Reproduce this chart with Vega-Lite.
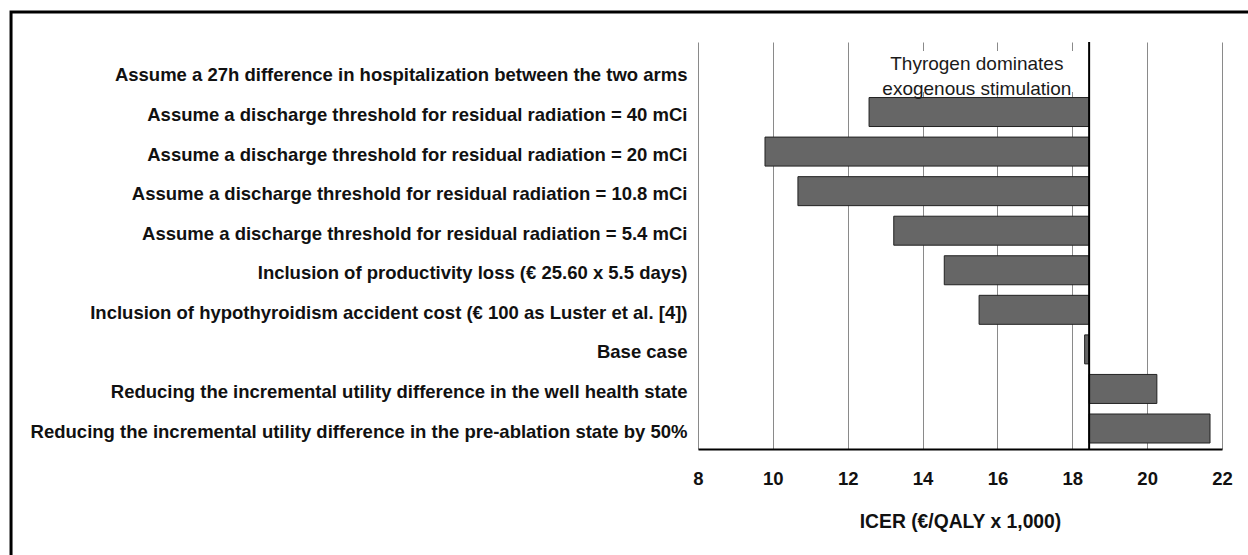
{
  "$schema": "https://vega.github.io/schema/vega-lite/v6.json",
  "autosize": {"type": "none"},
  "padding": {"left": 698, "top": 42, "right": 26, "bottom": 106},
  "width": 524,
  "height": 407,
  "background": "white",
  "config": {"view": {"stroke": null}, "font": "Liberation Sans"},
  "resolve": {"scale": {"y": "independent"}},
  "layer": [
    {
      "data": {"values": [{"box": "note"}]},
      "mark": {"type": "rect", "fill": "white", "strokeWidth": 0},
      "encoding": {
        "x": {"datum": 12.8, "type": "quantitative", "scale": {"domain": [8, 22], "nice": false, "zero": false}},
        "x2": {"datum": 18.38},
        "y": {"datum": 0.978, "type": "quantitative", "scale": {"domain": [0, 1], "nice": false, "zero": false}, "axis": null},
        "y2": {"datum": 0.877}
      }
    },
    {
      "data": {"values": [
        {"label": "Assume a 27h difference in hospitalization between the two arms", "lo": null, "hi": null},
        {"label": "Assume a discharge threshold for residual radiation = 40 mCi", "lo": 12.57, "hi": 18.45},
        {"label": "Assume a discharge threshold for residual radiation = 20 mCi", "lo": 9.79, "hi": 18.45},
        {"label": "Assume a discharge threshold for residual radiation = 10.8 mCi", "lo": 10.67, "hi": 18.45},
        {"label": "Assume a discharge threshold for residual radiation = 5.4 mCi", "lo": 13.23, "hi": 18.45},
        {"label": "Inclusion of productivity loss (€ 25.60 x 5.5 days)", "lo": 14.58, "hi": 18.45},
        {"label": "Inclusion of hypothyroidism accident cost (€ 100 as Luster et al. [4])", "lo": 15.51, "hi": 18.45},
        {"label": "Base case", "lo": 18.33, "hi": 18.45},
        {"label": "Reducing the incremental utility difference in the well health state", "lo": 18.45, "hi": 20.26},
        {"label": "Reducing the incremental utility difference in the pre-ablation state by 50%", "lo": 18.45, "hi": 21.68}
      ]},
      "mark": {"type": "bar", "fill": "#666666", "stroke": "#222222", "strokeWidth": 1},
      "encoding": {
        "y": {
          "field": "label", "type": "nominal", "sort": null,
          "scale": {
            "domain": [
              "Assume a 27h difference in hospitalization between the two arms",
              "Assume a discharge threshold for residual radiation = 40 mCi",
              "Assume a discharge threshold for residual radiation = 20 mCi",
              "Assume a discharge threshold for residual radiation = 10.8 mCi",
              "Assume a discharge threshold for residual radiation = 5.4 mCi",
              "Inclusion of productivity loss (€ 25.60 x 5.5 days)",
              "Inclusion of hypothyroidism accident cost (€ 100 as Luster et al. [4])",
              "Base case",
              "Reducing the incremental utility difference in the well health state",
              "Reducing the incremental utility difference in the pre-ablation state by 50%"
            ],
            "paddingInner": 0.267, "paddingOuter": 0.2775, "align": 0.727
          },
          "axis": {
            "title": null, "domain": false, "ticks": false, "grid": false,
            "labelFontSize": 18.5, "labelFontWeight": "bold", "labelColor": "#111111",
            "labelPadding": 11, "labelLimit": 900, "labelOffset": 3
          }
        },
        "x": {
          "field": "lo", "type": "quantitative",
          "scale": {"domain": [8, 22], "nice": false, "zero": false},
          "axis": {
            "values": [8, 10, 12, 14, 16, 18, 20, 22],
            "grid": true, "gridColor": "#8a8a8a", "gridWidth": 1,
            "domainColor": "#000000", "domainWidth": 2, "ticks": false,
            "labelFontSize": 18.5, "labelFontWeight": "bold", "labelColor": "#111111",
            "labelPadding": 20, "labelFlush": false,
            "title": "ICER (€/QALY x 1,000)", "titleFontSize": 19.3, "titleFontWeight": "bold",
            "titleColor": "#111111", "titlePadding": 25
          }
        },
        "x2": {"field": "hi"}
      }
    },
    {
      "data": {"values": [{"line": "baseline"}]},
      "mark": {"type": "rule", "color": "#000000", "strokeWidth": 2},
      "encoding": {
        "x": {"datum": 18.45, "type": "quantitative", "scale": {"domain": [8, 22], "nice": false, "zero": false}}
      }
    },
    {
      "data": {"values": [{"note": "Thyrogen dominates\nexogenous stimulation"}]},
      "mark": {"type": "text", "font": "Liberation Sans", "fontSize": 19, "color": "#1a1a1a", "align": "center", "baseline": "middle", "lineBreak": "\n", "lineHeight": 25},
      "encoding": {
        "text": {"field": "note"},
        "x": {"datum": 15.45, "type": "quantitative", "scale": {"domain": [8, 22], "nice": false, "zero": false}},
        "y": {"datum": 0.946, "type": "quantitative", "scale": {"domain": [0, 1], "nice": false, "zero": false}, "axis": null}
      }
    },
    {
      "data": {"values": [{"frame": "outer"}]},
      "mark": {"type": "rect", "filled": false, "stroke": "#000000", "strokeWidth": 3, "clip": false},
      "encoding": {
        "x": {"datum": -10.354, "type": "quantitative", "scale": {"domain": [8, 22], "nice": false, "zero": false}},
        "x2": {"datum": 23.5},
        "y": {"datum": 1.0737, "type": "quantitative", "scale": {"domain": [0, 1], "nice": false, "zero": false}, "axis": null},
        "y2": {"datum": -0.6}
      }
    }
  ]
}
